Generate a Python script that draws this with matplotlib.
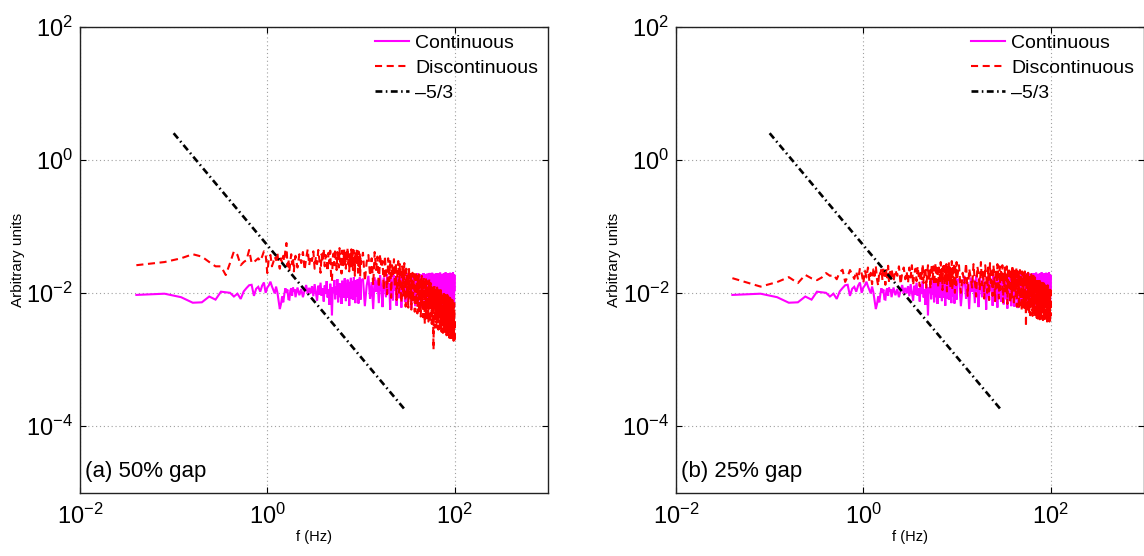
import matplotlib
matplotlib.use("Agg")
import matplotlib.pyplot as plt
from matplotlib.ticker import FixedLocator, LogFormatterSciNotation, NullLocator

# ---------------- data ----------------
UNIT = 1e-3  # spectral values below are given in units of 10^-3

freq_low = [
    0.04, 0.08, 0.12, 0.16, 0.20, 0.24, 0.28, 0.32, 0.36, 0.40,
    0.44, 0.48, 0.52, 0.56, 0.60, 0.64, 0.68, 0.72, 0.76, 0.80,
    0.84, 0.88, 0.92, 0.96, 1.00, 1.04, 1.08, 1.12, 1.16, 1.20,
    1.24, 1.28, 1.32, 1.36, 1.40, 1.44, 1.48, 1.52, 1.56, 1.60,
    1.64, 1.68, 1.72, 1.76, 1.80, 1.84, 1.88, 1.92, 1.96, 2.00,
]
freq_mid = [
    2.1, 2.2, 2.3, 2.4, 2.5, 2.6, 2.7, 2.8, 2.9, 3.0,
    3.1, 3.2, 3.3, 3.4, 3.5, 3.6, 3.7, 3.8, 3.9, 4.0,
    4.1, 4.2, 4.3, 4.4, 4.5, 4.6, 4.7, 4.8, 4.9, 5.0,
    5.1, 5.2, 5.3, 5.4, 5.5, 5.6, 5.7, 5.8, 5.9, 6.0,
    6.1, 6.2, 6.3, 6.4, 6.5, 6.6, 6.7, 6.8, 6.9, 7.0,
    7.1, 7.2, 7.3, 7.4, 7.5, 7.6, 7.7, 7.8, 7.9, 8.0,
    8.1, 8.2, 8.3, 8.4, 8.5, 8.6, 8.7, 8.8, 8.9, 9.0,
    9.1, 9.2, 9.3, 9.4, 9.5, 9.6, 9.7, 9.8, 9.9, 10.0,
]
freq_high = [
    10.5, 11.0, 11.5, 12.0, 12.5, 13.0, 13.5, 14.0, 14.5, 15.0,
    15.5, 16.0, 16.5, 17.0, 17.5, 18.0, 18.5, 19.0, 19.5, 20.0,
    20.5, 21.0, 21.5, 22.0, 22.5, 23.0, 23.5, 24.0, 24.5, 25.0,
    25.5, 26.0, 26.5, 27.0, 27.5, 28.0, 28.5, 29.0, 29.5, 30.0,
    30.5, 31.0, 31.5, 32.0, 32.5, 33.0, 33.5, 34.0, 34.5, 35.0,
    35.5, 36.0, 36.5, 37.0, 37.5, 38.0, 38.5, 39.0, 39.5, 40.0,
    40.5, 41.0, 41.5, 42.0, 42.5, 43.0, 43.5, 44.0, 44.5, 45.0,
    45.5, 46.0, 46.5, 47.0, 47.5, 48.0, 48.5, 49.0, 49.5, 50.0,
    50.5, 51.0, 51.5, 52.0, 52.5, 53.0, 53.5, 54.0, 54.5, 55.0,
    55.5, 56.0, 56.5, 57.0, 57.5, 58.0, 58.5, 59.0, 59.5, 60.0,
    60.5, 61.0, 61.5, 62.0, 62.5, 63.0, 63.5, 64.0, 64.5, 65.0,
    65.5, 66.0, 66.5, 67.0, 67.5, 68.0, 68.5, 69.0, 69.5, 70.0,
    70.5, 71.0, 71.5, 72.0, 72.5, 73.0, 73.5, 74.0, 74.5, 75.0,
    75.5, 76.0, 76.5, 77.0, 77.5, 78.0, 78.5, 79.0, 79.5, 80.0,
    80.5, 81.0, 81.5, 82.0, 82.5, 83.0, 83.5, 84.0, 84.5, 85.0,
    85.5, 86.0, 86.5, 87.0, 87.5, 88.0, 88.5, 89.0, 89.5, 90.0,
    90.5, 91.0, 91.5, 92.0, 92.5, 93.0, 93.5, 94.0, 94.5, 95.0,
    95.5, 96.0, 96.5, 97.0, 97.5, 98.0, 98.5, 99.0, 99.5, 100.0,
]
freq = freq_low + freq_mid + freq_high

# Continuous record (identical in both panels)
continuous = [
    9.3, 9.7, 8.6, 7.1, 7.2, 8.8, 7.9, 10.4, 10.2, 10.0,
    8.8, 9.7, 8.1, 10.5, 11.8, 13.0, 13.2, 9.0, 11.5, 12.3,
    10.4, 12.8, 14.3, 10.0, 12.0, 13.0, 14.7, 12.5, 11.0, 9.8,
    12.4, 10.2, 7.5, 5.7, 6.8, 8.8, 7.2, 9.5, 11.7, 10.1,
    11.2, 8.0, 7.9, 10.8, 11.7, 9.0, 12.0, 10.5, 11.3, 8.6,
    # 2.1 - 10 Hz
    12.0, 9.2, 11.4, 8.6, 10.8, 13.1, 9.7, 11.9, 9.8, 12.6,
    8.9, 13.5, 10.2, 7.6, 12.8, 9.4, 14.2, 9.0, 11.6, 7.4,
    12.9, 9.6, 15.0, 8.5, 11.3, 6.6, 13.7, 9.8, 4.6, 12.2,
    10.0, 15.6, 8.0, 12.4, 9.3, 16.1, 7.2, 11.8, 14.0, 8.6,
    13.3, 6.8, 15.2, 9.7, 12.0, 8.4, 16.5, 10.6, 7.5, 13.9,
    11.0, 15.8, 8.4, 12.7, 6.4, 14.6, 9.9, 16.8, 8.2, 12.3,
    15.1, 7.8, 11.5, 17.2, 8.9, 13.6, 7.0, 15.5, 10.4, 14.3,
    8.7, 16.0, 11.2, 6.9, 14.8, 9.0, 17.0, 12.1, 7.9, 15.3,
    # 10.5 - 100 Hz
    16.2, 6.3, 12.8, 18.0, 8.1, 14.5, 5.7, 17.1, 10.3, 15.8,
    7.0, 18.4, 11.6, 6.1, 16.9, 13.2, 8.6, 19.0, 9.8, 14.1,
    5.6, 17.5, 12.2, 7.7, 18.6, 10.9, 15.4, 6.4, 17.8, 11.1,
    8.3, 19.2, 13.8, 6.0, 16.4, 9.5, 18.1, 12.5, 7.3, 17.0,
    10.0, 19.5, 6.7, 14.9, 18.3, 8.0, 16.0, 11.9, 5.8, 18.8,
    13.0, 7.6, 19.3, 10.5, 16.6, 6.3, 17.7, 12.4, 8.8, 19.6,
    11.4, 6.2, 18.0, 14.4, 7.9, 19.1, 9.6, 16.3, 5.9, 18.5,
    12.7, 8.5, 19.8, 10.8, 15.7, 6.6, 18.9, 13.5, 7.4, 17.3,
    9.9, 19.4, 12.0, 6.1, 18.2, 14.7, 8.2, 19.9, 10.6, 16.8,
    6.9, 18.7, 13.1, 9.1, 20.0, 11.5, 7.1, 17.6, 15.0, 6.4,
    19.3, 10.2, 16.1, 8.4, 18.4, 12.9, 6.8, 19.7, 11.0, 15.2,
    7.5, 18.1, 13.7, 6.0, 19.5, 9.4, 17.2, 12.2, 8.0, 20.1,
    10.7, 16.6, 6.5, 18.8, 14.0, 8.7, 19.2, 11.8, 7.2, 17.9,
    13.3, 6.2, 19.6, 10.1, 15.9, 8.3, 18.6, 12.6, 6.7, 20.3,
    9.7, 17.0, 14.2, 7.0, 19.0, 11.2, 16.4, 6.1, 18.3, 13.9,
    8.9, 19.8, 10.4, 15.5, 6.6, 18.0, 12.3, 7.7, 20.0, 11.6,
    16.7, 6.3, 19.1, 13.4, 8.6, 17.4, 10.0, 19.4, 6.9, 15.1,
    12.1, 20.2, 7.3, 17.8, 9.2, 19.0, 6.0, 14.6, 18.5, 11.0,
]

# Discontinuous record, (a) 50% gap
discontinuous_a = [
    26, 29, 33, 38, 35, 29, 25, 25, 18.5, 28,
    42, 37, 26, 29, 31, 44, 28, 29, 31, 33,
    30, 35, 42, 38, 19.8, 34, 37, 25, 29, 35,
    31, 40, 27, 23, 33, 28, 36, 30, 44, 56,
    25, 32, 21, 29, 38, 27, 34, 21, 30, 36,
    # 2.1 - 10 Hz
    24, 38, 28, 41, 22, 33, 45, 26, 36, 30,
    42, 23, 35, 27, 44, 31, 20, 38, 29, 46,
    25, 37, 33, 21, 40, 28, 43, 17, 15, 34,
    39, 26, 45, 30, 22, 41, 35, 24, 47, 29,
    36, 19.5, 43, 32, 26, 46, 28, 38, 23, 44,
    31, 48, 27, 35, 21, 42, 33, 25, 45, 30,
    39, 22, 44, 29, 36, 18, 41, 33, 26, 43,
    28, 38, 20, 42, 31, 24, 40, 17.5, 35, 27,
    # 10.5 - 100 Hz
    40, 15, 29, 37, 18, 33, 13, 41, 22, 35,
    12, 38, 24, 30, 11, 36, 19, 9.5, 33, 15,
    31, 8.4, 26, 18, 32, 12, 28, 7.8, 22, 30,
    10, 27, 16, 7.1, 25, 20, 8.8, 28, 13, 6.2,
    23, 11, 19, 6.0, 24, 14, 8.5, 21, 5.6, 17,
    20, 7.2, 15, 19, 5.2, 12, 21, 8.0, 18, 4.9,
    16, 9.5, 19, 5.0, 13, 17, 4.4, 11, 18, 6.5,
    15, 4.3, 12, 17, 7.5, 3.4, 14, 9.2, 16, 4.0,
    11, 15, 5.5, 13, 3.7, 8.4, 16, 6.0, 12, 3.6,
    14, 7.0, 10, 3.4, 13, 5.2, 11, 3.2, 1.4, 12,
    6.3, 13, 3.0, 9.4, 12, 4.6, 10, 3.0, 7.8, 12,
    3.9, 11, 6.0, 2.8, 9.8, 11, 4.2, 7.4, 2.7, 10.5,
    5.0, 11, 3.1, 8.2, 2.6, 10, 6.4, 3.5, 9.6, 2.5,
    7.0, 10, 3.0, 5.4, 9.5, 2.4, 8.0, 4.1, 9.8, 2.6,
    6.2, 9.0, 3.3, 2.3, 8.6, 5.0, 9.3, 2.4, 7.1, 3.8,
    8.8, 2.2, 6.0, 8.2, 3.0, 2.1, 7.5, 4.6, 8.4, 2.5,
    5.8, 7.9, 2.1, 3.6, 7.4, 2.0, 6.5, 4.2, 7.8, 2.4,
    6.8, 2.0, 4.9, 7.2, 1.9, 5.6, 3.1, 7.0, 1.8, 4.4,
]

# Discontinuous record, (b) 25% gap
discontinuous_b = [
    16.6, 12.4, 14.5, 17.2, 14.0, 18.6, 16.5, 15.5, 17.0, 19.8,
    18.0, 18.6, 16.0, 20.5, 22.2, 14.6, 17.5, 22.0, 19.0, 16.2,
    21.0, 15.8, 23.5, 19.5, 14.0, 21.5, 17.0, 24.0, 15.0, 20.0,
    13.5, 22.5, 18.0, 25.0, 16.0, 12.8, 21.0, 19.0, 23.0, 15.5,
    24.5, 18.5, 13.2, 22.0, 17.0, 25.5, 14.5, 20.5, 16.5, 23.0,
    # 2.1 - 10 Hz
    15, 22, 18, 25, 13.5, 20, 24, 16, 21, 14,
    24, 17, 26, 13, 19, 23, 15, 25, 18, 12.5,
    22, 16, 27, 14, 20, 24, 12, 19, 26, 15,
    23, 11.5, 21, 27, 16, 25, 13, 20, 28, 14.5,
    18, 26, 12, 24, 21, 15, 29, 17, 23, 11,
    25, 19, 28, 13, 22, 16, 27, 10.5, 24, 20,
    14, 29, 18, 26, 12, 23, 17, 30, 11, 25,
    21, 15, 28, 19, 10, 26, 22, 13, 29, 16,
    # 10.5 - 100 Hz
    26, 10, 20, 14, 28, 9.0, 23, 17, 12, 27,
    15, 8.8, 25, 19, 11, 29, 13, 22, 8.2, 26,
    18, 10, 24, 7.8, 28, 14, 21, 9.0, 26, 16,
    7.5, 23, 12, 27, 19, 8.2, 25, 11, 22, 15,
    26, 7.2, 20, 13, 24, 9.5, 17, 25, 6.8, 21,
    11, 24, 16, 7.0, 22, 19, 8.5, 26, 12, 20,
    6.5, 23, 14, 18, 9.0, 24, 6.2, 17, 21, 10,
    20, 5.8, 15, 22, 8.0, 19, 12, 5.5, 21, 16,
    9.5, 20, 6.0, 17, 13, 21, 5.4, 11, 3.1, 18,
    14, 19, 5.2, 10, 20, 7.0, 16, 4.8, 18, 12,
    4.6, 17, 9.0, 19, 6.0, 13, 18, 4.5, 15, 8.0,
    18, 5.0, 12, 16, 4.3, 17, 7.5, 14, 4.4, 16,
    10, 4.2, 15, 6.5, 16, 4.1, 13, 8.5, 15, 4.5,
    14, 5.8, 4.0, 15, 11, 14, 4.1, 7.0, 14, 5.0,
    12, 14, 4.0, 9.0, 13.5, 3.9, 6.0, 14, 4.4, 12,
    3.8, 14, 7.5, 11, 13.5, 4.0, 12.5, 5.5, 3.8, 13,
    9.0, 12.5, 3.7, 11, 6.5, 13, 4.0, 9.5, 12, 3.6,
    12, 5.0, 10, 3.7, 11.5, 7.5, 3.6, 12, 4.5, 11,
]

# -5/3 reference line (end points)
slope_x = [0.1, 29.0]
slope_y = [2.5, 1.8e-4]

panel_labels = ["(a) 50% gap", "(b) 25% gap"]
legend_labels = ["Continuous", "Discontinuous", "\u20135/3"]
x_ticks = [1e-2, 1e0, 1e2]
y_ticks = [1e-4, 1e-2, 1e0, 1e2]
x_label = "f (Hz)"
y_label = "Arbitrary units"

assert len(continuous) == len(freq)
assert len(discontinuous_a) == len(freq)
assert len(discontinuous_b) == len(freq)

# ---------------- style ----------------
plt.rcParams["font.family"] = ["Liberation Sans", "DejaVu Sans"]
plt.rcParams["mathtext.fontset"] = "custom"
plt.rcParams["mathtext.rm"] = "Liberation Sans"
plt.rcParams["mathtext.it"] = "Liberation Sans:italic"
plt.rcParams["mathtext.bf"] = "Liberation Sans:bold"

fig = plt.figure(figsize=(11.44, 5.56), dpi=100)
fig.patch.set_facecolor("white")

rects = [[0.0699, 0.1142, 0.4094, 0.838], [0.5909, 0.1142, 0.4094, 0.838]]

for rect, disc, plabel in zip(rects, [discontinuous_a, discontinuous_b], panel_labels):
    ax = fig.add_axes(rect)
    ax.plot(freq, [v * UNIT for v in continuous], color="#ff00ff", lw=1.5,
            label=legend_labels[0], solid_joinstyle="miter")
    ax.plot(freq, [v * UNIT for v in disc], color="#ff0000", lw=1.5,
            ls=(0, (3.4, 2.2)), label=legend_labels[1])
    ax.plot(slope_x, slope_y, color="black", lw=1.9,
            ls=(0, (2.6, 1.3, 0.6, 1.3)), label=legend_labels[2])

    ax.set_xscale("log")
    ax.set_yscale("log")
    ax.set_xlim(1e-2, 1e3)
    ax.set_ylim(1e-5, 1e2)
    ax.xaxis.set_major_locator(FixedLocator(x_ticks))
    ax.yaxis.set_major_locator(FixedLocator(y_ticks))
    ax.xaxis.set_minor_locator(NullLocator())
    ax.yaxis.set_minor_locator(NullLocator())
    ax.xaxis.set_major_formatter(LogFormatterSciNotation())
    ax.yaxis.set_major_formatter(LogFormatterSciNotation())
    ax.tick_params(which="major", direction="in", length=4, width=0.8,
                   top=True, right=True, labelsize=17)
    ax.tick_params(axis="x", pad=8)
    ax.tick_params(axis="y", pad=5)
    ax.grid(True, which="major", color="#a0a0a0", lw=0.8, ls=(0, (1, 2.5)))
    ax.set_axisbelow(True)
    for s in ax.spines.values():
        s.set_linewidth(1.0)
        s.set_color("#222222")

    ax.set_xlabel(x_label, fontsize=10.5, labelpad=1)
    ax.set_ylabel(y_label, fontsize=11, labelpad=1)
    ax.text(0.011, 0.022, plabel, transform=ax.transAxes, fontsize=16,
            ha="left", va="bottom")

    leg = ax.legend(loc="upper left", bbox_to_anchor=(0.63, 0.983),
                    frameon=False, fontsize=14, handlelength=1.75,
                    handletextpad=0.3, labelspacing=0.38, borderpad=0,
                    borderaxespad=0)

fig.savefig("out.png", dpi=100, facecolor="white")
